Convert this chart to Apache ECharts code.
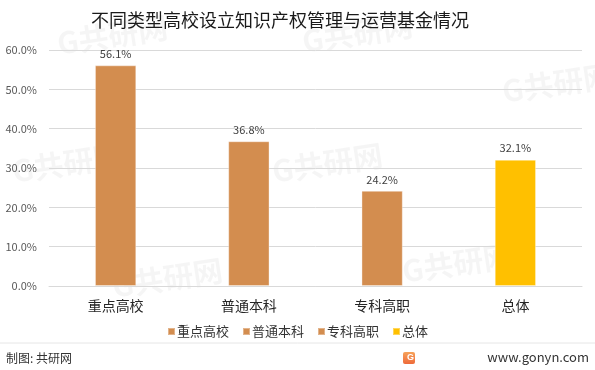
<!DOCTYPE html>
<html>
<head>
<meta charset="utf-8">
<script src="https://cdn.jsdelivr.net/npm/echarts@6/dist/echarts.min.js"></script>
<style>
  html, body { margin: 0; padding: 0; background: #fff; }
  #chart { width: 595px; height: 370px; }
</style>
</head>
<body>
<div id="chart"></div>
<script>
const categories = ["重点高校", "普通本科", "专科高职", "总体"];
const values = [56.1, 36.8, 24.2, 32.1];
const colors = ["#D38D4F", "#D38D4F", "#D38D4F", "#FFC000"];
const yTicks = { min: 0, max: 60, interval: 10 };

const font = '"Noto Sans CJK SC", "Noto Sans", sans-serif';

// one series per category so that the legend lists each of them
const series = categories.map((name, i) => ({
  name: name,
  type: "bar",
  stack: "all",
  barWidth: "31%",
  itemStyle: { color: colors[i], borderColor: "rgba(255,255,255,0.35)", borderWidth: 1 },
  label: {
    show: true,
    position: "top",
    distance: 6,
    color: "#404040",
    fontSize: 11,
    fontFamily: font,
    formatter: p => p.value.toFixed(1) + "%"
  },
  data: categories.map((c, j) => (j === i ? values[i] : "-")),
  animation: false
}));

const chart = echarts.init(document.getElementById("chart"));
chart.setOption({
  backgroundColor: "#fff",
  title: {
    text: "不同类型高校设立知识产权管理与运营基金情况",
    left: 275,
    textAlign: "center",
    top: 6,
    textStyle: { color: "#1a1a1a", fontSize: 18, fontWeight: "normal", fontFamily: font }
  },
  legend: {
    bottom: 27,
    left: "center",
    itemWidth: 7,
    itemHeight: 7,
    itemGap: 13,
    icon: "rect",
    textStyle: { color: "#333", fontSize: 13, fontFamily: font, padding: [0, 0, 0, -3] },
    data: categories
  },
  grid: { left: 49, right: 13, top: 50, bottom: 84 },
  xAxis: {
    type: "category",
    data: categories,
    axisLine: { lineStyle: { color: "#d9d9d9" } },
    axisTick: { show: false },
    axisLabel: { color: "#262626", fontSize: 14, fontFamily: font, margin: 13 }
  },
  yAxis: {
    type: "value",
    min: yTicks.min,
    max: yTicks.max,
    interval: yTicks.interval,
    axisLine: { show: false },
    axisTick: { show: false },
    splitLine: { lineStyle: { color: "#d9d9d9" } },
    axisLabel: {
      color: "#595959",
      fontSize: 11,
      fontFamily: font,
      margin: 12,
      formatter: v => v.toFixed(1) + "%"
    }
  },
  graphic: [
    // faint watermarks
    { type: "text", left: 55, top: 12, rotation: 0.15, z: -1,
      style: { text: "G共研网", fill: "rgba(0,0,0,0.04)", font: 'bold 30px ' + font } },
    { type: "text", left: 300, top: 10, rotation: 0.15, z: -1,
      style: { text: "G共研网", fill: "rgba(0,0,0,0.04)", font: 'bold 30px ' + font } },
    { type: "text", left: 10, top: 140, rotation: 0.15, z: -1,
      style: { text: "G共研网", fill: "rgba(0,0,0,0.04)", font: 'bold 30px ' + font } },
    { type: "text", left: 270, top: 140, rotation: 0.15, z: -1,
      style: { text: "G共研网", fill: "rgba(0,0,0,0.04)", font: 'bold 30px ' + font } },
    { type: "text", left: 500, top: 60, rotation: 0.15, z: -1,
      style: { text: "G共研网", fill: "rgba(0,0,0,0.04)", font: 'bold 30px ' + font } },
    { type: "text", left: 110, top: 255, rotation: 0.15, z: -1,
      style: { text: "G共研网", fill: "rgba(0,0,0,0.04)", font: 'bold 30px ' + font } },
    { type: "text", left: 400, top: 240, rotation: 0.15, z: -1,
      style: { text: "G共研网", fill: "rgba(0,0,0,0.04)", font: 'bold 30px ' + font } },
    // footer
    { type: "line", shape: { x1: 0, y1: 343, x2: 595, y2: 343 },
      style: { stroke: "#e6e6e6", lineWidth: 1 } },
    { type: "text", left: 6, top: 352,
      style: { text: "制图: 共研网", fill: "#333", font: "12px " + font } },
    { type: "rect", shape: { x: 403, y: 352, width: 12, height: 12, r: 2 },
      style: { fill: new echarts.graphic.LinearGradient(0, 0, 0, 1, [
        { offset: 0, color: "#F6A25A" }, { offset: 1, color: "#EE6A3A" }]) } },
    { type: "text", left: 407, top: 353,
      style: { text: "G", fill: "#fff", font: "bold 9px sans-serif" } },
    { type: "text", right: 6, top: 351,
      style: { text: "www.gonyn.com", fill: "#333", font: "13px " + font } }
  ],
  series: series
});
</script>
</body>
</html>
